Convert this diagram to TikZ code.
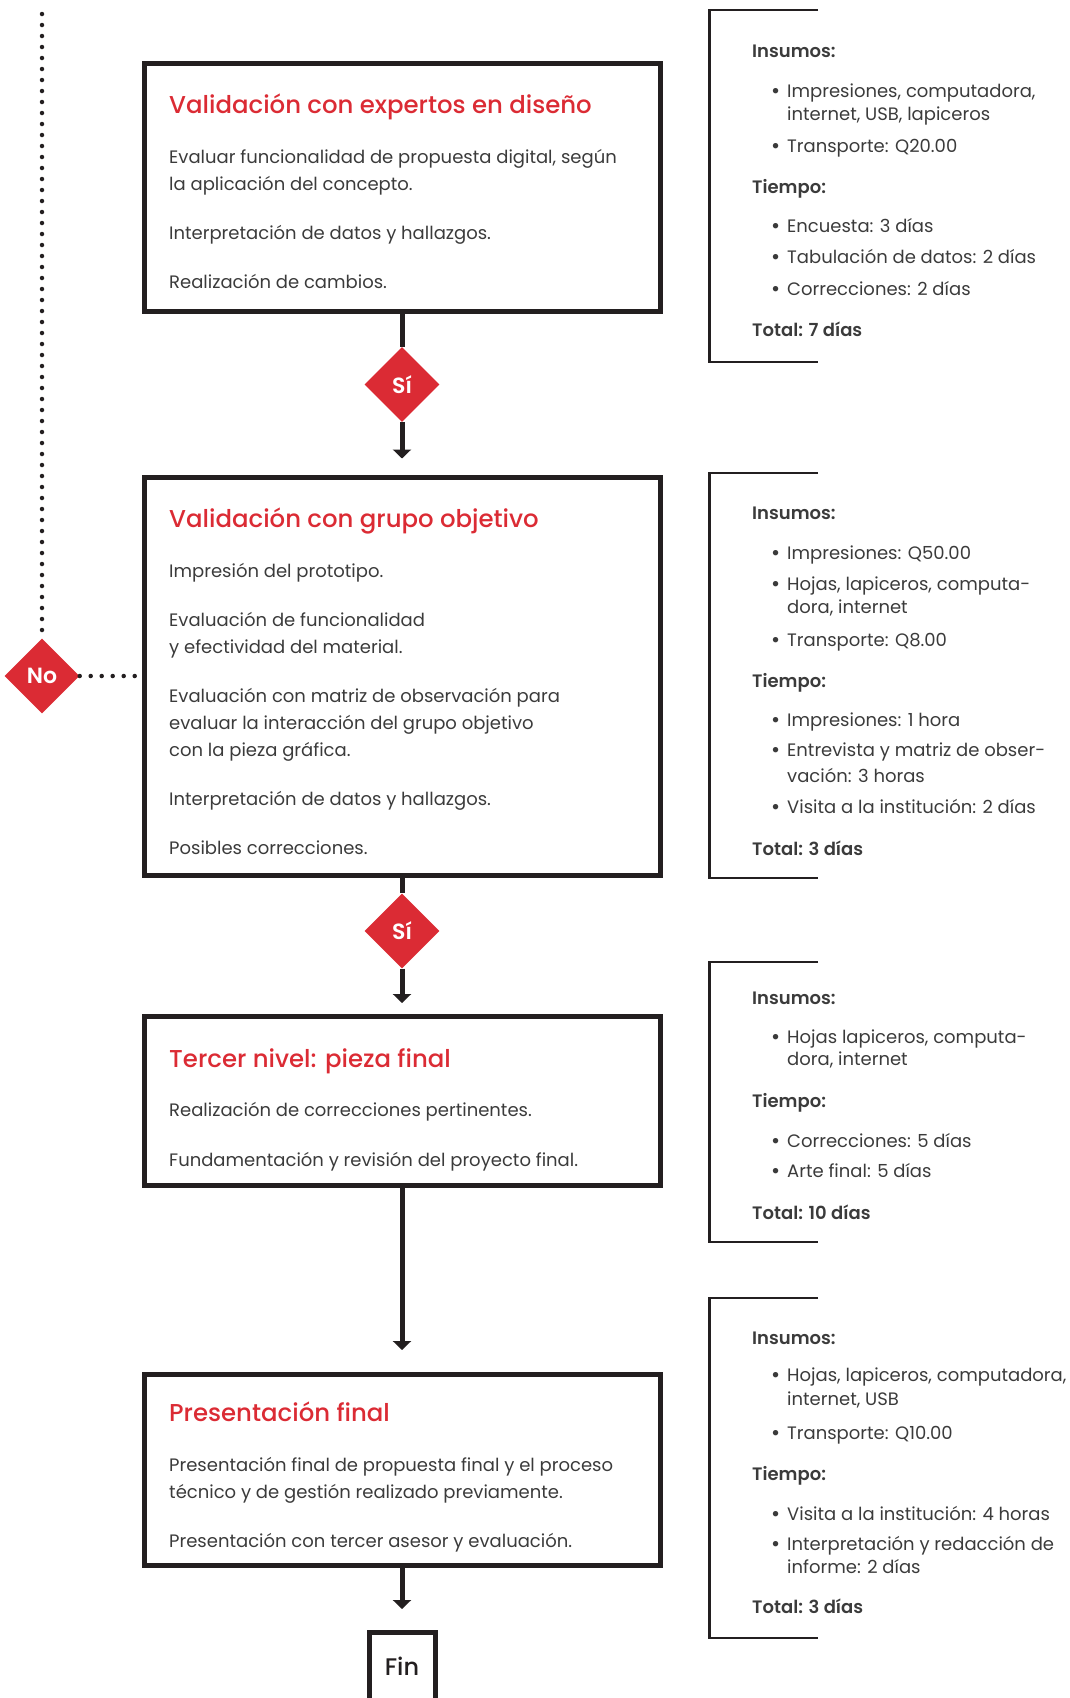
\documentclass[tikz,border=0pt]{standalone}
\usepackage{fontspec}
\setmainfont{Poppins}[BoldFont={Poppins SemiBold}]
\newfontfamily\medio{Poppins Medium}
\usetikzlibrary{arrows.meta,shapes.geometric}

\definecolor{rojo}{HTML}{DB2B34}
\definecolor{tinta}{HTML}{3B3B3B}
\definecolor{linea}{HTML}{231F20}
\newcommand{\vineta}{\llap{\raisebox{-1pt}{\fontsize{22}{22}\selectfont\textbullet}\hspace{7pt}}}

\begin{document}
\begin{tikzpicture}[x=1pt,y=-1pt,
  etapa/.style={rectangle,draw=linea,line width=5pt,minimum width=516pt,inner sep=0pt},
  decision/.style={diamond,fill=rojo,minimum size=75pt,inner sep=0pt,text=white,font=\fontsize{22}{22}\selectfont\bfseries},
  titulo/.style={anchor=base west,inner sep=0pt,text=rojo,font=\fontsize{24.4}{24.4}\medio},
  texto/.style={anchor=base west,inner sep=0pt,text=tinta,font=\fontsize{18}{18}\selectfont},
  cabeza/.style={anchor=base west,inner sep=0pt,text=tinta,font=\fontsize{18}{18}\selectfont\bfseries},
  flujo/.style={draw=linea,line width=5pt},
  flecha/.style={flujo,-{Triangle[width=18pt,length=9pt]}},
  punto/.style={draw=linea,line width=4.5pt,line cap=round,dash pattern=on 0pt off 11pt},
  llave/.style={draw=linea,line width=2.5pt}]
\useasboundingbox (0,0) rectangle (1069,1698);

% etapas
\path (402,187) node[etapa,minimum height=248pt] (val1) {};
\path (402,676) node[etapa,minimum height=398pt] (val2) {};
\path (402,1101) node[etapa,minimum height=169pt] (ter) {};
\path (402,1469.5) node[etapa,minimum height=191pt] (pres) {};
\path (402,1677.5) node[etapa,minimum width=66pt,minimum height=90pt,text height=18pt,text depth=23pt,text=linea,font=\fontsize{24}{24}\medio] (fin) {Fin};

% decisiones
\path (402,384.5) node[decision] (si1) {Sí};
\path (402,931) node[decision] (si2) {Sí};
\path (42,676) node[decision] (no) {No};
\coordinate (arriba) at (42,14);

\draw[flujo] (val1) -- (si1);
\draw[flecha,shorten >=16pt] (si1) -- (val2);
\draw[flujo] (val2) -- (si2);
\draw[flecha,shorten >=11pt] (si2) -- (ter);
\draw[flecha,shorten >=21.5pt] (ter) -- (pres);
\draw[flecha,shorten >=21pt] (pres) -- (fin);
\draw[punto] (arriba) -- (no);
\draw[punto] (no) -- (no -| val2.west);

% textos de las etapas
\path (169,113) node[titulo] (val1t) {Validación con expertos en diseño};
\path (169,163) node[texto] (val1a) {Evaluar funcionalidad de propuesta digital, según};
\path (169,190) node[texto] (val1b) {la aplicación del concepto.};
\path (169,239) node[texto] (val1c) {Interpretación de datos y hallazgos.};
\path (169,288) node[texto] (val1d) {Realización de cambios.};

\path (169,527) node[titulo] (val2t) {Validación con grupo objetivo};
\path (169,577) node[texto] (val2a) {Impresión del prototipo.};
\path (169,626) node[texto] (val2b) {Evaluación de funcionalidad};
\path (169,653) node[texto] (val2c) {y efectividad del material.};
\path (169,702) node[texto] (val2d) {Evaluación con matriz de observación para};
\path (169,729) node[texto] (val2e) {evaluar la interacción del grupo objetivo};
\path (169,756) node[texto] (val2f) {con la pieza gráfica.};
\path (169,805) node[texto] (val2g) {Interpretación de datos y hallazgos.};
\path (169,854) node[texto] (val2h) {Posibles correcciones.};

\path (169,1067) node[titulo] (tert) {Tercer nivel: pieza final};
\path (169,1116) node[texto] (tera) {Realización de correcciones pertinentes.};
\path (169,1166) node[texto] (terb) {Fundamentación y revisión del proyecto final.};

\path (169,1421) node[titulo] (prest) {Presentación final};
\path (169,1471) node[texto] (presa) {Presentación final de propuesta final y el proceso};
\path (169,1498) node[texto] (presb) {técnico y de gestión realizado previamente.};
\path (169,1547) node[texto] (presc) {Presentación con tercer asesor y evaluación.};

% recursos
\draw[llave] (818,10) -- (709.5,10) -- (709.5,362) -- (818,362);
\path (752,57) node[cabeza] (p1a) {Insumos:};
\path (787,97) node[texto] (p1b) {\vineta Impresiones, computadora,};
\path (787,120) node[texto] (p1c) {internet, USB, lapiceros};
\path (787,152) node[texto] (p1d) {\vineta Transporte: Q20.00};
\path (752,193) node[cabeza] (p1e) {Tiempo:};
\path (787,232) node[texto] (p1f) {\vineta Encuesta: 3 días};
\path (787,263) node[texto] (p1g) {\vineta Tabulación de datos: 2 días};
\path (787,295) node[texto] (p1h) {\vineta Correcciones: 2 días};
\path (752,336) node[cabeza] (p1i) {Total: 7 días};

\draw[llave] (818,473) -- (709.5,473) -- (709.5,878) -- (818,878);
\path (752,519) node[cabeza] (p2a) {Insumos:};
\path (787,559) node[texto] (p2b) {\vineta Impresiones: Q50.00};
\path (787,590) node[texto] (p2c) {\vineta Hojas, lapiceros, computa-};
\path (787,613) node[texto] (p2d) {dora, internet};
\path (787,646) node[texto] (p2e) {\vineta Transporte: Q8.00};
\path (752,687) node[cabeza] (p2f) {Tiempo:};
\path (787,726) node[texto] (p2g) {\vineta Impresiones: 1 hora};
\path (787,756) node[texto] (p2h) {\vineta Entrevista y matriz de obser-};
\path (787,782) node[texto] (p2i) {vación: 3 horas};
\path (787,813) node[texto] (p2j) {\vineta Visita a la institución: 2 días};
\path (752,855) node[cabeza] (p2k) {Total: 3 días};

\draw[llave] (818,962) -- (709.5,962) -- (709.5,1242) -- (818,1242);
\path (752,1004) node[cabeza] (p3a) {Insumos:};
\path (787,1043) node[texto] (p3b) {\vineta Hojas lapiceros, computa-};
\path (787,1065) node[texto] (p3c) {dora, internet};
\path (752,1107) node[cabeza] (p3d) {Tiempo:};
\path (787,1147) node[texto] (p3e) {\vineta Correcciones: 5 días};
\path (787,1177) node[texto] (p3f) {\vineta Arte final: 5 días};
\path (752,1219) node[cabeza] (p3g) {Total: 10 días};

\draw[llave] (818,1298) -- (709.5,1298) -- (709.5,1638) -- (818,1638);
\path (752,1344) node[cabeza] (p4a) {Insumos:};
\path (787,1381) node[texto] (p4b) {\vineta Hojas, lapiceros, computadora,};
\path (787,1405) node[texto] (p4c) {internet, USB};
\path (787,1439) node[texto] (p4d) {\vineta Transporte: Q10.00};
\path (752,1480) node[cabeza] (p4e) {Tiempo:};
\path (787,1520) node[texto] (p4f) {\vineta Visita a la institución: 4 horas};
\path (787,1550) node[texto] (p4g) {\vineta Interpretación y redacción de};
\path (787,1573) node[texto] (p4h) {informe: 2 días};
\path (752,1613) node[cabeza] (p4i) {Total: 3 días};
\end{tikzpicture}
\end{document}
